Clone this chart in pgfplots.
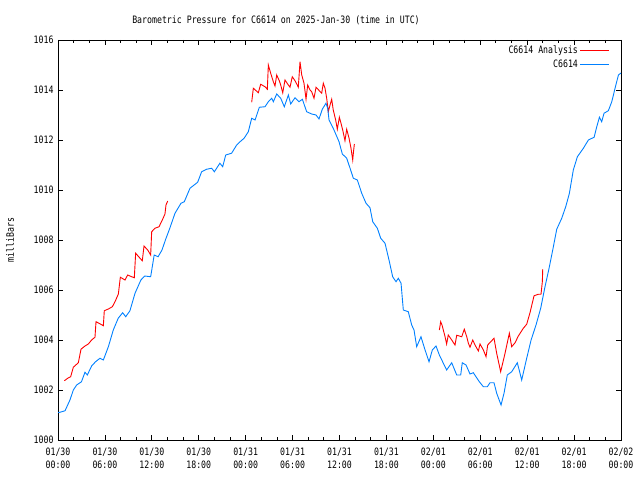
\documentclass[border=0pt]{standalone}
\usepackage{fontspec}
\setmainfont{DejaVu Sans Mono}[FakeStretch=0.81]
\usepackage{pgfplots}
\pgfplotsset{compat=1.18}
\definecolor{gpred}{RGB}{255,0,0}
\definecolor{gpblue}{RGB}{0,128,255}
\begin{document}
\begin{tikzpicture}[x=1bp,y=1bp]
\path[use as bounding box] (0,0) rectangle (640,480);
\begin{axis}[
  at={(58bp,40bp)}, anchor=south west,
  scale only axis, width=563bp, height=400bp,
  xmin=0, xmax=72, ymin=1000, ymax=1016,
  xtick={0,6,...,72},
  minor xtick={2,4,8,10,14,16,20,22,26,28,32,34,38,40,44,46,50,52,56,58,62,64,68,70},
  xticklabels={{01/30\\00:00},{01/30\\06:00},{01/30\\12:00},{01/30\\18:00},{01/31\\00:00},{01/31\\06:00},{01/31\\12:00},{01/31\\18:00},{02/01\\00:00},{02/01\\06:00},{02/01\\12:00},{02/01\\18:00},{02/02\\00:00}},
  xticklabel style={align=center, font=\fontsize{10.2}{13}\selectfont, yshift=-4.5bp},
  ytick={1000,1002,...,1016},
  yticklabel style={font=\fontsize{10.2}{12}\selectfont, xshift=-1bp},
  /pgf/number format/assume math mode=true,
  /pgf/number format/1000 sep={},
  tick align=inside, tick pos=both,
  major tick length=5bp, minor tick length=3bp,
  tick style={black, line width=0.8bp},
  axis line style={line width=0.8bp},
  ylabel={milliBars},
  ylabel style={font=\fontsize{10.2}{12}\selectfont, at={(axis description cs:-0.0853,0.5)}, anchor=center, rotate=0},
  title={Barometric Pressure for C6614 on 2025-Jan-30 (time in UTC)},
  title style={font=\fontsize{10.2}{12}\selectfont, at={(218bp,414bp)}, anchor=center},
  legend style={at={(axis description cs:1,1)}, xshift=-10bp, yshift=-3bp, anchor=north east, draw=none, fill=none, font=\fontsize{10.2}{12}\selectfont, legend cell align=right, row sep=0.5bp, inner sep=1bp},
  legend plot pos=right,
  legend image code/.code={\draw[#1] (0bp,0bp) -- (29bp,0bp);},
  unbounded coords=jump,
]
\addplot[gpred, line width=0.9bp] coordinates {
(0.81,1002.37) (1.24,1002.47) (1.62,1002.53) (1.96,1002.91) (2.6,1003.09) (2.94,1003.63) (3.45,1003.76) (3.88,1003.84) (4.3,1004.0) (4.73,1004.11) (4.86,1004.73) (5.24,1004.67) (5.8,1004.57) (5.92,1005.17) (6.44,1005.24) (6.95,1005.33) (7.29,1005.53) (7.72,1005.84) (7.97,1006.51) (8.57,1006.4) (8.91,1006.6) (9.42,1006.53) (9.76,1006.49) (9.93,1007.47) (10.49,1007.27) (10.78,1007.17) (11.0,1007.76) (11.47,1007.6) (11.85,1007.4) (11.98,1008.33) (12.4,1008.47) (12.92,1008.53) (13.34,1008.8) (13.68,1009.04) (13.81,1009.4) (14.03,1009.56)
(20,nan)
(24.77,1013.51) (24.98,1014.07) (25.62,1013.89) (25.92,1014.23) (26.47,1014.13) (26.77,1014.03) (26.9,1015.0) (27.2,1014.67) (27.54,1014.33) (27.75,1014.16) (27.97,1014.6) (28.3,1014.37) (28.48,1014.2) (28.74,1013.89) (29.03,1014.4) (29.46,1014.2) (29.67,1014.11) (29.96,1014.53) (30.31,1014.37) (30.6,1014.2) (30.73,1014.11) (30.95,1015.13) (31.17,1014.6) (31.46,1014.27) (31.72,1013.63) (31.93,1014.2) (32.23,1014.0) (32.44,1013.93) (32.74,1013.67) (33.0,1014.11) (33.42,1013.97) (33.72,1013.87) (33.93,1014.27) (34.15,1014.07) (34.36,1013.67) (34.57,1013.13) (34.79,1013.4) (35.0,1013.63) (35.2,1013.2) (35.51,1012.8) (35.72,1012.43) (35.98,1012.91) (36.19,1012.67) (36.41,1012.4) (36.7,1011.97) (36.92,1012.43) (37.22,1012.07) (37.47,1011.67) (37.69,1011.2) (37.77,1011.47) (37.9,1011.84)
(44,nan)
(48.77,1004.4) (48.94,1004.73) (49.11,1004.6) (49.5,1004.13) (49.7,1003.84) (49.91,1004.2) (50.35,1004.0) (50.77,1003.8) (50.99,1004.19) (51.63,1004.13) (51.96,1004.43) (52.27,1004.13) (52.48,1003.87) (52.69,1003.71) (53.04,1004.0) (53.33,1003.8) (53.76,1003.56) (53.97,1003.84) (54.4,1003.6) (54.74,1003.33) (54.95,1003.8) (55.76,1004.07) (56.1,1003.47) (56.61,1002.73) (57.17,1003.47) (57.72,1004.27) (58.02,1003.73) (58.45,1003.89) (58.87,1004.16) (59.51,1004.47) (59.94,1004.63) (60.36,1005.09) (60.88,1005.77) (61.43,1005.83) (61.77,1005.83) (61.94,1006.33) (61.99,1006.83)
};
\addlegendentry{C6614 Analysis}
\addplot[gpblue, line width=0.9bp] coordinates {
(0.0,1001.10) (0.26,1001.11) (0.9,1001.17) (1.53,1001.6) (1.96,1002.0) (2.39,1002.2) (3.0,1002.33) (3.45,1002.71) (3.75,1002.6) (4.3,1002.96) (4.8,1003.13) (5.37,1003.27) (5.8,1003.2) (6.44,1003.73) (7.07,1004.4) (7.7,1004.87) (8.27,1005.09) (8.66,1004.93) (9.2,1005.17) (9.85,1005.87) (10.6,1006.4) (11.1,1006.56) (11.85,1006.53) (12.3,1007.4) (12.8,1007.33) (13.3,1007.6) (13.77,1008.03) (14.3,1008.47) (14.96,1009.07) (15.73,1009.47) (16.15,1009.53) (16.88,1010.07) (17.86,1010.31) (18.37,1010.73) (19.0,1010.83) (19.65,1010.87) (20.0,1010.73) (20.7,1011.07) (21.06,1010.93) (21.45,1011.4) (22.2,1011.47) (22.85,1011.8) (23.28,1011.93) (23.8,1012.07) (24.34,1012.33) (24.77,1012.87) (25.2,1012.8) (25.75,1013.31) (26.47,1013.33) (26.9,1013.53) (27.33,1013.67) (27.54,1013.53) (27.97,1013.84) (28.48,1013.67) (28.94,1013.33) (29.46,1013.8) (29.76,1013.44) (30.31,1013.69) (30.82,1013.53) (31.25,1013.63) (31.8,1013.13) (32.44,1013.04) (33.0,1013.0) (33.38,1012.84) (33.8,1013.23) (34.27,1013.47) (34.49,1013.27) (34.66,1012.8) (35.2,1012.47) (35.94,1011.93) (36.36,1011.44) (36.92,1011.27) (37.35,1010.87) (37.77,1010.47) (38.28,1010.4) (38.84,1009.87) (39.39,1009.47) (39.9,1009.29) (40.25,1008.73) (40.84,1008.47) (41.27,1008.07) (41.82,1007.87) (42.33,1007.2) (42.8,1006.53) (43.23,1006.33) (43.52,1006.47) (43.87,1006.27) (44.16,1005.2) (44.8,1005.13) (45.23,1004.6) (45.53,1004.4) (45.87,1003.73) (46.42,1004.13) (46.94,1003.6) (47.45,1003.13) (47.87,1003.6) (48.34,1003.76) (48.77,1003.4) (49.28,1003.07) (49.7,1002.8) (50.35,1003.09) (50.99,1002.6) (51.5,1002.6) (51.7,1003.09) (52.18,1003.0) (52.69,1002.64) (53.12,1002.69) (53.88,1002.33) (54.4,1002.13) (54.9,1002.13) (55.25,1002.29) (55.76,1002.29) (56.1,1001.87) (56.66,1001.4) (57.04,1001.87) (57.46,1002.6) (58.02,1002.73) (58.74,1003.09) (59.3,1002.4) (59.94,1003.27) (60.5,1004.0) (61.13,1004.6) (61.73,1005.27) (62.28,1006.13) (62.8,1006.87) (63.35,1007.73) (63.78,1008.43) (64.42,1008.87) (64.93,1009.33) (65.4,1009.87) (65.9,1010.8) (66.42,1011.33) (67.19,1011.67) (67.83,1012.0) (68.56,1012.11) (68.9,1012.53) (69.24,1012.91) (69.53,1012.73) (69.83,1013.07) (70.38,1013.17) (70.82,1013.53) (71.24,1014.07) (71.67,1014.6) (72.0,1014.68)
};
\addlegendentry{C6614}
\end{axis}
\end{tikzpicture}
\end{document}
